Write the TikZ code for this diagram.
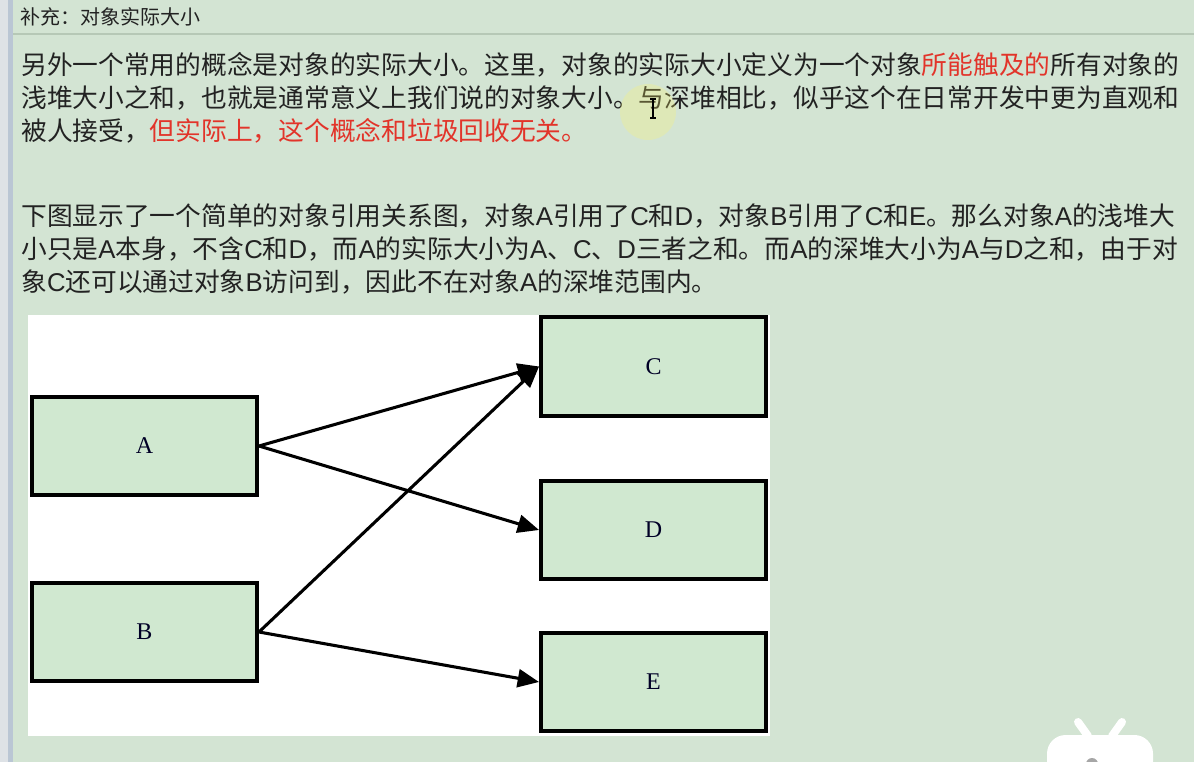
\documentclass[tikz,border=0pt]{standalone}
\usepackage{fontspec}
\setmainfont{Liberation Serif}
\newfontfamily\cjk{Noto Sans CJK SC}
\newfontfamily\lat{Liberation Sans}
\newcommand{\objname}[1]{{\lat #1}}
\usetikzlibrary{arrows.meta}
\definecolor{panelgreen}{RGB}{211,228,211}
\definecolor{boxgreen}{RGB}{208,232,208}
\definecolor{rulegreen}{RGB}{182,200,182}
\definecolor{notered}{RGB}{226,52,42}
\definecolor{inkgray}{RGB}{34,34,34}
\definecolor{stripgray}{RGB}{222,226,230}
\definecolor{stripblue}{RGB}{186,198,212}

\begin{document}
\begin{tikzpicture}[x=0.75pt, y=-0.75pt,
    obj/.style={draw=black, fill=boxgreen, line width=2.7pt, minimum width=169pt,
        minimum height=73.8pt, inner sep=0pt, text=black!85!blue,
        font=\fontsize{18pt}{21pt}\selectfont},
    ref/.style={line width=2.3pt, -{Triangle[length=16pt, width=13.5pt]}},
    txtline/.style={anchor=base west, inner sep=0pt, text=inkgray,
        font=\cjk\fontsize{19.3pt}{22pt}\selectfont}]
    \useasboundingbox (0,0) rectangle (1194,762);
    % Page
    \fill[panelgreen] (0,0) rectangle (1194,762);
    \fill[stripgray] (0,0) rectangle (8,762);
    \fill[stripblue] (8,0) rectangle (13,762);
    \draw[rulegreen, line width=1.5pt] (13,34) -- (1194,34);

    % Title
    \node[txtline, font=\cjk\fontsize{15pt}{18pt}\selectfont] (title) at (20,25) {补充：对象实际大小};

    % First paragraph
    \node[txtline] (lineA) at (21,75) {另外一个常用的概念是对象的实际大小。这里，对象的实际大小定义为一个对象{\color{notered}所能触及的}所有对象的};
    \node[txtline] (lineB) at (21,108) {浅堆大小之和，也就是通常意义上我们说的对象大小。与深堆相比，似乎这个在日常开发中更为直观和};
    \node[txtline] (lineC) at (21,141) {被人接受，{\color{notered}但实际上，这个概念和垃圾回收无关。}};

    % Second paragraph
    \node[txtline] (lineD) at (21,226) {下图显示了一个简单的对象引用关系图，对象\objname{A}引用了\objname{C}和\objname{D}，对象\objname{B}引用了\objname{C}和\objname{E}。那么对象\objname{A}的浅堆大};
    \node[txtline] (lineE) at (21,259) {小只是\objname{A}本身，不含\objname{C}和\objname{D}，而\objname{A}的实际大小为\objname{A}、\objname{C}、\objname{D}三者之和。而\objname{A}的深堆大小为\objname{A}与\objname{D}之和，由于对};
    \node[txtline] (lineF) at (21,292) {象\objname{C}还可以通过对象\objname{B}访问到，因此不在对象\objname{A}的深堆范围内。};

    % Mouse pointer glow
    \fill[yellow!60!white, opacity=0.25] (648,112) circle (28);
    \draw[black, line width=0.8pt] (653,99) -- (653,118) (650,99) -- (656,99) (650,118) -- (656,118);

    % Canvas
    \fill[white] (28,315) rectangle (770,736);

    % Objects
    \node[obj] (objA) at (144.5,446) {A};
    \node[obj] (objB) at (144.5,632) {B};
    \node[obj] (objC) at (653.5,366.5) {C};
    \node[obj] (objD) at (653.5,530) {D};
    \node[obj] (objE) at (653.5,682) {E};

    % References
    \draw[ref] (objA.east) -- (objC.west);
    \draw[ref] (objA.east) -- (objD.west);
    \draw[ref] (objB.east) -- (objC.west);
    \draw[ref] (objB.east) -- (objE.west);

    % Corner badge
    \draw[white, line width=6pt, line cap=round] (1078,722) -- (1088,736) (1122,722) -- (1112,736);
    \fill[white, rounded corners=14] (1047,735) rectangle (1153,780);
    \fill[gray!70] (1092,764) circle (6);
\end{tikzpicture}
\end{document}
